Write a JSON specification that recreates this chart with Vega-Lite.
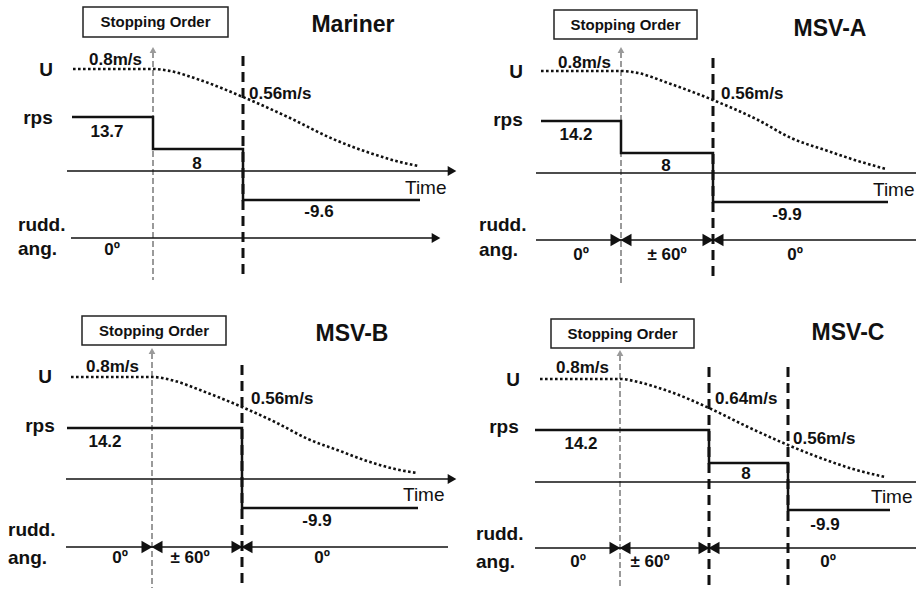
{
  "$schema": "https://vega.github.io/schema/vega-lite/v6.json",
  "padding": 0,
  "spacing": 0,
  "bounds": "flush",
  "columns": 2,
  "config": {"view": {"stroke": null}, "font": "Liberation Sans", "background": "white"},
  "data": {"values": [
    {"p": "Mariner", "k": "box", "x": 83, "x2": 228, "y": 7, "y2": 37},
    {"p": "Mariner", "k": "boxt", "x": 155.5, "y": 22, "t": "Stopping Order"},
    {"p": "Mariner", "k": "title", "x": 353, "y": 25, "t": "Mariner"},
    {"p": "Mariner", "k": "sideC", "x": 46, "y": 70, "t": "U"},
    {"p": "Mariner", "k": "sideC", "x": 38, "y": 118, "t": "rps"},
    {"p": "Mariner", "k": "sideL", "x": 18, "y": 225, "t": "rudd."},
    {"p": "Mariner", "k": "sideL", "x": 18, "y": 249, "t": "ang."},
    {"p": "Mariner", "k": "u", "x": 73, "y": 69},
    {"p": "Mariner", "k": "u", "x": 153, "y": 69},
    {"p": "Mariner", "k": "u", "x": 170, "y": 71},
    {"p": "Mariner", "k": "u", "x": 200, "y": 80},
    {"p": "Mariner", "k": "u", "x": 243, "y": 97},
    {"p": "Mariner", "k": "u", "x": 290, "y": 118},
    {"p": "Mariner", "k": "u", "x": 333, "y": 139},
    {"p": "Mariner", "k": "u", "x": 370, "y": 153},
    {"p": "Mariner", "k": "u", "x": 400, "y": 162},
    {"p": "Mariner", "k": "u", "x": 418, "y": 166},
    {"p": "Mariner", "k": "spd", "x": 89, "y": 60, "t": "0.8m/s"},
    {"p": "Mariner", "k": "spd", "x": 249, "y": 94, "t": "0.56m/s"},
    {"p": "Mariner", "k": "gray", "x": 153, "y": 52, "y2": 280},
    {"p": "Mariner", "k": "dash", "x": 243, "y": 56, "y2": 275},
    {"p": "Mariner", "k": "rps", "o": 1, "x": 72, "y": 117},
    {"p": "Mariner", "k": "rps", "o": 2, "x": 153, "y": 117},
    {"p": "Mariner", "k": "rps", "o": 3, "x": 153, "y": 149},
    {"p": "Mariner", "k": "rps", "o": 4, "x": 243, "y": 149},
    {"p": "Mariner", "k": "rps", "o": 5, "x": 243, "y": 200},
    {"p": "Mariner", "k": "rps", "o": 6, "x": 420, "y": 200},
    {"p": "Mariner", "k": "val", "x": 107, "y": 132, "t": "13.7"},
    {"p": "Mariner", "k": "val", "x": 197, "y": 164, "t": "8"},
    {"p": "Mariner", "k": "val", "x": 319, "y": 212, "t": "-9.6"},
    {"p": "Mariner", "k": "axis", "x": 67, "x2": 448, "y": 171},
    {"p": "Mariner", "k": "head", "x": 452, "y": 171},
    {"p": "Mariner", "k": "time", "x": 405, "y": 188, "t": "Time"},
    {"p": "Mariner", "k": "axis", "x": 71, "x2": 433, "y": 238},
    {"p": "Mariner", "k": "head", "x": 436, "y": 238},
    {"p": "Mariner", "k": "ang", "x": 112, "y": 250, "t": "0º"},

    {"p": "MSV-A", "k": "box", "x": 96, "x2": 239, "y": 10, "y2": 39},
    {"p": "MSV-A", "k": "boxt", "x": 167.5, "y": 25, "t": "Stopping Order"},
    {"p": "MSV-A", "k": "title", "x": 372, "y": 29, "t": "MSV-A"},
    {"p": "MSV-A", "k": "sideC", "x": 58, "y": 72, "t": "U"},
    {"p": "MSV-A", "k": "sideC", "x": 50, "y": 120, "t": "rps"},
    {"p": "MSV-A", "k": "sideL", "x": 21, "y": 225, "t": "rudd."},
    {"p": "MSV-A", "k": "sideL", "x": 21, "y": 250, "t": "ang."},
    {"p": "MSV-A", "k": "u", "x": 83, "y": 71},
    {"p": "MSV-A", "k": "u", "x": 163, "y": 71},
    {"p": "MSV-A", "k": "u", "x": 180, "y": 73},
    {"p": "MSV-A", "k": "u", "x": 210, "y": 83},
    {"p": "MSV-A", "k": "u", "x": 255, "y": 100},
    {"p": "MSV-A", "k": "u", "x": 300, "y": 120},
    {"p": "MSV-A", "k": "u", "x": 333, "y": 138},
    {"p": "MSV-A", "k": "u", "x": 367, "y": 150},
    {"p": "MSV-A", "k": "u", "x": 400, "y": 161},
    {"p": "MSV-A", "k": "u", "x": 428, "y": 169},
    {"p": "MSV-A", "k": "spd", "x": 100, "y": 63, "t": "0.8m/s"},
    {"p": "MSV-A", "k": "spd", "x": 263, "y": 94, "t": "0.56m/s"},
    {"p": "MSV-A", "k": "gray", "x": 163, "y": 52, "y2": 283},
    {"p": "MSV-A", "k": "dash", "x": 255, "y": 58, "y2": 277},
    {"p": "MSV-A", "k": "rps", "o": 1, "x": 83, "y": 121},
    {"p": "MSV-A", "k": "rps", "o": 2, "x": 163, "y": 121},
    {"p": "MSV-A", "k": "rps", "o": 3, "x": 163, "y": 153},
    {"p": "MSV-A", "k": "rps", "o": 4, "x": 255, "y": 153},
    {"p": "MSV-A", "k": "rps", "o": 5, "x": 255, "y": 202},
    {"p": "MSV-A", "k": "rps", "o": 6, "x": 430, "y": 202},
    {"p": "MSV-A", "k": "val", "x": 118, "y": 135, "t": "14.2"},
    {"p": "MSV-A", "k": "val", "x": 208, "y": 166, "t": "8"},
    {"p": "MSV-A", "k": "val", "x": 329, "y": 215, "t": "-9.9"},
    {"p": "MSV-A", "k": "axis", "x": 78, "x2": 458, "y": 173},
    {"p": "MSV-A", "k": "time", "x": 415, "y": 190, "t": "Time"},
    {"p": "MSV-A", "k": "axis", "x": 78, "x2": 458, "y": 240},
    {"p": "MSV-A", "k": "bow", "x": 163, "y": 240},
    {"p": "MSV-A", "k": "bow", "x": 255, "y": 240},
    {"p": "MSV-A", "k": "ang", "x": 123, "y": 255, "t": "0º"},
    {"p": "MSV-A", "k": "ang", "x": 209, "y": 255, "t": "± 60º"},
    {"p": "MSV-A", "k": "ang", "x": 337, "y": 255, "t": "0º"},

    {"p": "MSV-B", "k": "box", "x": 82, "x2": 226, "y": 22, "y2": 51},
    {"p": "MSV-B", "k": "boxt", "x": 154, "y": 36.5, "t": "Stopping Order"},
    {"p": "MSV-B", "k": "title", "x": 352, "y": 40, "t": "MSV-B"},
    {"p": "MSV-B", "k": "sideC", "x": 45, "y": 83, "t": "U"},
    {"p": "MSV-B", "k": "sideC", "x": 40, "y": 132, "t": "rps"},
    {"p": "MSV-B", "k": "sideL", "x": 8, "y": 236, "t": "rudd."},
    {"p": "MSV-B", "k": "sideL", "x": 8, "y": 264, "t": "ang."},
    {"p": "MSV-B", "k": "u", "x": 71, "y": 83},
    {"p": "MSV-B", "k": "u", "x": 152, "y": 83},
    {"p": "MSV-B", "k": "u", "x": 175, "y": 87},
    {"p": "MSV-B", "k": "u", "x": 200, "y": 96},
    {"p": "MSV-B", "k": "u", "x": 242, "y": 113},
    {"p": "MSV-B", "k": "u", "x": 275, "y": 128},
    {"p": "MSV-B", "k": "u", "x": 308, "y": 145},
    {"p": "MSV-B", "k": "u", "x": 340, "y": 157},
    {"p": "MSV-B", "k": "u", "x": 367, "y": 167},
    {"p": "MSV-B", "k": "u", "x": 395, "y": 175},
    {"p": "MSV-B", "k": "u", "x": 417, "y": 179},
    {"p": "MSV-B", "k": "spd", "x": 86, "y": 73, "t": "0.8m/s"},
    {"p": "MSV-B", "k": "spd", "x": 251, "y": 105, "t": "0.56m/s"},
    {"p": "MSV-B", "k": "gray", "x": 152, "y": 59, "y2": 294},
    {"p": "MSV-B", "k": "dash", "x": 242, "y": 71, "y2": 294},
    {"p": "MSV-B", "k": "rps", "o": 1, "x": 67, "y": 134},
    {"p": "MSV-B", "k": "rps", "o": 2, "x": 242, "y": 134},
    {"p": "MSV-B", "k": "rps", "o": 3, "x": 242, "y": 214},
    {"p": "MSV-B", "k": "rps", "o": 4, "x": 418, "y": 214},
    {"p": "MSV-B", "k": "val", "x": 105, "y": 148, "t": "14.2"},
    {"p": "MSV-B", "k": "val", "x": 317, "y": 227, "t": "-9.9"},
    {"p": "MSV-B", "k": "axis", "x": 66, "x2": 448, "y": 185},
    {"p": "MSV-B", "k": "head", "x": 452, "y": 185},
    {"p": "MSV-B", "k": "time", "x": 403, "y": 201, "t": "Time"},
    {"p": "MSV-B", "k": "axis", "x": 66, "x2": 448, "y": 253},
    {"p": "MSV-B", "k": "bow", "x": 152, "y": 253},
    {"p": "MSV-B", "k": "bow", "x": 242, "y": 253},
    {"p": "MSV-B", "k": "ang", "x": 120, "y": 264, "t": "0º"},
    {"p": "MSV-B", "k": "ang", "x": 190, "y": 264, "t": "± 60º"},
    {"p": "MSV-B", "k": "ang", "x": 322, "y": 264, "t": "0º"},

    {"p": "MSV-C", "k": "box", "x": 93, "x2": 236, "y": 25, "y2": 54},
    {"p": "MSV-C", "k": "boxt", "x": 164.5, "y": 39.5, "t": "Stopping Order"},
    {"p": "MSV-C", "k": "title", "x": 390, "y": 39, "t": "MSV-C"},
    {"p": "MSV-C", "k": "sideC", "x": 55, "y": 86, "t": "U"},
    {"p": "MSV-C", "k": "sideC", "x": 46, "y": 133, "t": "rps"},
    {"p": "MSV-C", "k": "sideL", "x": 18, "y": 240, "t": "rudd."},
    {"p": "MSV-C", "k": "sideL", "x": 18, "y": 268, "t": "ang."},
    {"p": "MSV-C", "k": "u", "x": 82, "y": 85},
    {"p": "MSV-C", "k": "u", "x": 163, "y": 85},
    {"p": "MSV-C", "k": "u", "x": 180, "y": 88},
    {"p": "MSV-C", "k": "u", "x": 210, "y": 97},
    {"p": "MSV-C", "k": "u", "x": 251, "y": 114},
    {"p": "MSV-C", "k": "u", "x": 290, "y": 133},
    {"p": "MSV-C", "k": "u", "x": 330, "y": 151},
    {"p": "MSV-C", "k": "u", "x": 360, "y": 163},
    {"p": "MSV-C", "k": "u", "x": 395, "y": 175},
    {"p": "MSV-C", "k": "u", "x": 427, "y": 183},
    {"p": "MSV-C", "k": "spd", "x": 98, "y": 74, "t": "0.8m/s"},
    {"p": "MSV-C", "k": "spd", "x": 257, "y": 105, "t": "0.64m/s"},
    {"p": "MSV-C", "k": "spd", "x": 335, "y": 145, "t": "0.56m/s"},
    {"p": "MSV-C", "k": "gray", "x": 162, "y": 61, "y2": 294},
    {"p": "MSV-C", "k": "dash", "x": 251, "y": 73, "y2": 294},
    {"p": "MSV-C", "k": "dash", "x": 330, "y": 73, "y2": 294},
    {"p": "MSV-C", "k": "rps", "o": 1, "x": 77, "y": 136},
    {"p": "MSV-C", "k": "rps", "o": 2, "x": 251, "y": 136},
    {"p": "MSV-C", "k": "rps", "o": 3, "x": 251, "y": 169},
    {"p": "MSV-C", "k": "rps", "o": 4, "x": 330, "y": 169},
    {"p": "MSV-C", "k": "rps", "o": 5, "x": 330, "y": 216},
    {"p": "MSV-C", "k": "rps", "o": 6, "x": 432, "y": 216},
    {"p": "MSV-C", "k": "val", "x": 123, "y": 150, "t": "14.2"},
    {"p": "MSV-C", "k": "val", "x": 288, "y": 180, "t": "8"},
    {"p": "MSV-C", "k": "val", "x": 367, "y": 231, "t": "-9.9"},
    {"p": "MSV-C", "k": "axis", "x": 77, "x2": 458, "y": 188},
    {"p": "MSV-C", "k": "time", "x": 413, "y": 203, "t": "Time"},
    {"p": "MSV-C", "k": "axis", "x": 77, "x2": 458, "y": 254},
    {"p": "MSV-C", "k": "bow", "x": 162, "y": 254},
    {"p": "MSV-C", "k": "bow", "x": 251, "y": 254},
    {"p": "MSV-C", "k": "ang", "x": 120, "y": 268, "t": "0º"},
    {"p": "MSV-C", "k": "ang", "x": 192, "y": 268, "t": "± 60º"},
    {"p": "MSV-C", "k": "ang", "x": 370, "y": 268, "t": "0º"}
  ]},
  "concat": [
    {
      "width": 458, "height": 294,
      "transform": [{"filter": "datum.p === 'Mariner'"}],
      "encoding": {
        "x": {"field": "x", "type": "quantitative", "scale": {"domain": [0, 458], "nice": false, "zero": false}, "axis": null},
        "y": {"field": "y", "type": "quantitative", "scale": {"domain": [0, 294], "nice": false, "zero": false, "reverse": true}, "axis": null}
      },
      "layer": [
        {"transform": [{"filter": "datum.k === 'box'"}], "mark": {"type": "rect", "fill": "white", "stroke": "#222", "strokeWidth": 1.5}, "encoding": {"x2": {"field": "x2"}, "y2": {"field": "y2"}}},
        {"transform": [{"filter": "datum.k === 'boxt'"}], "mark": {"type": "text", "fontSize": 15, "fontWeight": "bold", "align": "center", "baseline": "middle", "color": "#111"}, "encoding": {"text": {"field": "t"}}},
        {"transform": [{"filter": "datum.k === 'title'"}], "mark": {"type": "text", "fontSize": 23, "fontWeight": "bold", "align": "center", "baseline": "middle", "color": "#111"}, "encoding": {"text": {"field": "t"}}},
        {"transform": [{"filter": "datum.k === 'sideC'"}], "mark": {"type": "text", "fontSize": 19, "fontWeight": "bold", "align": "center", "baseline": "middle", "color": "#111"}, "encoding": {"text": {"field": "t"}}},
        {"transform": [{"filter": "datum.k === 'sideL'"}], "mark": {"type": "text", "fontSize": 19, "fontWeight": "bold", "align": "left", "baseline": "middle", "color": "#111"}, "encoding": {"text": {"field": "t"}}},
        {"transform": [{"filter": "datum.k === 'gray'"}], "mark": {"type": "rule", "color": "#9a9a9a", "strokeWidth": 2, "strokeDash": [6, 3]}, "encoding": {"y2": {"field": "y2"}}},
        {"transform": [{"filter": "datum.k === 'gray'"}], "mark": {"type": "point", "shape": "triangle-up", "filled": true, "size": 45, "color": "#9a9a9a", "opacity": 1, "yOffset": -2}},
        {"transform": [{"filter": "datum.k === 'dash'"}], "mark": {"type": "rule", "color": "#111", "strokeWidth": 3, "strokeDash": [10, 6]}, "encoding": {"y2": {"field": "y2"}}},
        {"transform": [{"filter": "datum.k === 'axis'"}], "mark": {"type": "rule", "color": "#111", "strokeWidth": 1.5}, "encoding": {"x2": {"field": "x2"}}},
        {"transform": [{"filter": "datum.k === 'head'"}], "mark": {"type": "point", "shape": "triangle-right", "filled": true, "size": 100, "color": "#111", "opacity": 1}},
        {"transform": [{"filter": "datum.k === 'u'"}], "mark": {"type": "line", "color": "#111", "strokeWidth": 2.6, "strokeDash": [2.6, 2.4], "interpolate": "monotone"}},
        {"transform": [{"filter": "datum.k === 'rps'"}], "mark": {"type": "line", "color": "#111", "strokeWidth": 2.5, "strokeJoin": "miter"}, "encoding": {"order": {"field": "o", "type": "quantitative"}}},
        {"transform": [{"filter": "datum.k === 'spd'"}], "mark": {"type": "text", "fontSize": 17, "fontWeight": "bold", "align": "left", "baseline": "middle", "color": "#111"}, "encoding": {"text": {"field": "t"}}},
        {"transform": [{"filter": "datum.k === 'val'"}], "mark": {"type": "text", "fontSize": 17, "fontWeight": "bold", "align": "center", "baseline": "middle", "color": "#111"}, "encoding": {"text": {"field": "t"}}},
        {"transform": [{"filter": "datum.k === 'ang'"}], "mark": {"type": "text", "fontSize": 17, "fontWeight": "bold", "align": "center", "baseline": "middle", "color": "#111"}, "encoding": {"text": {"field": "t"}}},
        {"transform": [{"filter": "datum.k === 'time'"}], "mark": {"type": "text", "fontSize": 19, "align": "left", "baseline": "middle", "color": "#111"}, "encoding": {"text": {"field": "t"}}}
      ]
    },
    {
      "width": 458, "height": 294,
      "transform": [{"filter": "datum.p === 'MSV-A'"}],
      "encoding": {
        "x": {"field": "x", "type": "quantitative", "scale": {"domain": [0, 458], "nice": false, "zero": false}, "axis": null},
        "y": {"field": "y", "type": "quantitative", "scale": {"domain": [0, 294], "nice": false, "zero": false, "reverse": true}, "axis": null}
      },
      "layer": [
        {"transform": [{"filter": "datum.k === 'box'"}], "mark": {"type": "rect", "fill": "white", "stroke": "#222", "strokeWidth": 1.5}, "encoding": {"x2": {"field": "x2"}, "y2": {"field": "y2"}}},
        {"transform": [{"filter": "datum.k === 'boxt'"}], "mark": {"type": "text", "fontSize": 15, "fontWeight": "bold", "align": "center", "baseline": "middle", "color": "#111"}, "encoding": {"text": {"field": "t"}}},
        {"transform": [{"filter": "datum.k === 'title'"}], "mark": {"type": "text", "fontSize": 23, "fontWeight": "bold", "align": "center", "baseline": "middle", "color": "#111"}, "encoding": {"text": {"field": "t"}}},
        {"transform": [{"filter": "datum.k === 'sideC'"}], "mark": {"type": "text", "fontSize": 19, "fontWeight": "bold", "align": "center", "baseline": "middle", "color": "#111"}, "encoding": {"text": {"field": "t"}}},
        {"transform": [{"filter": "datum.k === 'sideL'"}], "mark": {"type": "text", "fontSize": 19, "fontWeight": "bold", "align": "left", "baseline": "middle", "color": "#111"}, "encoding": {"text": {"field": "t"}}},
        {"transform": [{"filter": "datum.k === 'gray'"}], "mark": {"type": "rule", "color": "#9a9a9a", "strokeWidth": 2, "strokeDash": [6, 3]}, "encoding": {"y2": {"field": "y2"}}},
        {"transform": [{"filter": "datum.k === 'gray'"}], "mark": {"type": "point", "shape": "triangle-up", "filled": true, "size": 45, "color": "#9a9a9a", "opacity": 1, "yOffset": -2}},
        {"transform": [{"filter": "datum.k === 'dash'"}], "mark": {"type": "rule", "color": "#111", "strokeWidth": 3, "strokeDash": [10, 6]}, "encoding": {"y2": {"field": "y2"}}},
        {"transform": [{"filter": "datum.k === 'axis'"}], "mark": {"type": "rule", "color": "#111", "strokeWidth": 1.5}, "encoding": {"x2": {"field": "x2"}}},
        {"transform": [{"filter": "datum.k === 'bow'"}], "mark": {"type": "point", "shape": "triangle-right", "filled": true, "size": 160, "color": "#111", "opacity": 1, "xOffset": -5}},
        {"transform": [{"filter": "datum.k === 'bow'"}], "mark": {"type": "point", "shape": "triangle-left", "filled": true, "size": 160, "color": "#111", "opacity": 1, "xOffset": 5}},
        {"transform": [{"filter": "datum.k === 'u'"}], "mark": {"type": "line", "color": "#111", "strokeWidth": 2.6, "strokeDash": [2.6, 2.4], "interpolate": "monotone"}},
        {"transform": [{"filter": "datum.k === 'rps'"}], "mark": {"type": "line", "color": "#111", "strokeWidth": 2.5, "strokeJoin": "miter"}, "encoding": {"order": {"field": "o", "type": "quantitative"}}},
        {"transform": [{"filter": "datum.k === 'spd'"}], "mark": {"type": "text", "fontSize": 17, "fontWeight": "bold", "align": "left", "baseline": "middle", "color": "#111"}, "encoding": {"text": {"field": "t"}}},
        {"transform": [{"filter": "datum.k === 'val'"}], "mark": {"type": "text", "fontSize": 17, "fontWeight": "bold", "align": "center", "baseline": "middle", "color": "#111"}, "encoding": {"text": {"field": "t"}}},
        {"transform": [{"filter": "datum.k === 'ang'"}], "mark": {"type": "text", "fontSize": 17, "fontWeight": "bold", "align": "center", "baseline": "middle", "color": "#111"}, "encoding": {"text": {"field": "t"}}},
        {"transform": [{"filter": "datum.k === 'time'"}], "mark": {"type": "text", "fontSize": 19, "align": "left", "baseline": "middle", "color": "#111"}, "encoding": {"text": {"field": "t"}}}
      ]
    },
    {
      "width": 458, "height": 294,
      "transform": [{"filter": "datum.p === 'MSV-B'"}],
      "encoding": {
        "x": {"field": "x", "type": "quantitative", "scale": {"domain": [0, 458], "nice": false, "zero": false}, "axis": null},
        "y": {"field": "y", "type": "quantitative", "scale": {"domain": [0, 294], "nice": false, "zero": false, "reverse": true}, "axis": null}
      },
      "layer": [
        {"transform": [{"filter": "datum.k === 'box'"}], "mark": {"type": "rect", "fill": "white", "stroke": "#222", "strokeWidth": 1.5}, "encoding": {"x2": {"field": "x2"}, "y2": {"field": "y2"}}},
        {"transform": [{"filter": "datum.k === 'boxt'"}], "mark": {"type": "text", "fontSize": 15, "fontWeight": "bold", "align": "center", "baseline": "middle", "color": "#111"}, "encoding": {"text": {"field": "t"}}},
        {"transform": [{"filter": "datum.k === 'title'"}], "mark": {"type": "text", "fontSize": 23, "fontWeight": "bold", "align": "center", "baseline": "middle", "color": "#111"}, "encoding": {"text": {"field": "t"}}},
        {"transform": [{"filter": "datum.k === 'sideC'"}], "mark": {"type": "text", "fontSize": 19, "fontWeight": "bold", "align": "center", "baseline": "middle", "color": "#111"}, "encoding": {"text": {"field": "t"}}},
        {"transform": [{"filter": "datum.k === 'sideL'"}], "mark": {"type": "text", "fontSize": 19, "fontWeight": "bold", "align": "left", "baseline": "middle", "color": "#111"}, "encoding": {"text": {"field": "t"}}},
        {"transform": [{"filter": "datum.k === 'gray'"}], "mark": {"type": "rule", "color": "#9a9a9a", "strokeWidth": 2, "strokeDash": [6, 3]}, "encoding": {"y2": {"field": "y2"}}},
        {"transform": [{"filter": "datum.k === 'gray'"}], "mark": {"type": "point", "shape": "triangle-up", "filled": true, "size": 45, "color": "#9a9a9a", "opacity": 1, "yOffset": -2}},
        {"transform": [{"filter": "datum.k === 'dash'"}], "mark": {"type": "rule", "color": "#111", "strokeWidth": 3, "strokeDash": [10, 6]}, "encoding": {"y2": {"field": "y2"}}},
        {"transform": [{"filter": "datum.k === 'axis'"}], "mark": {"type": "rule", "color": "#111", "strokeWidth": 1.5}, "encoding": {"x2": {"field": "x2"}}},
        {"transform": [{"filter": "datum.k === 'head'"}], "mark": {"type": "point", "shape": "triangle-right", "filled": true, "size": 100, "color": "#111", "opacity": 1}},
        {"transform": [{"filter": "datum.k === 'bow'"}], "mark": {"type": "point", "shape": "triangle-right", "filled": true, "size": 160, "color": "#111", "opacity": 1, "xOffset": -5}},
        {"transform": [{"filter": "datum.k === 'bow'"}], "mark": {"type": "point", "shape": "triangle-left", "filled": true, "size": 160, "color": "#111", "opacity": 1, "xOffset": 5}},
        {"transform": [{"filter": "datum.k === 'u'"}], "mark": {"type": "line", "color": "#111", "strokeWidth": 2.6, "strokeDash": [2.6, 2.4], "interpolate": "monotone"}},
        {"transform": [{"filter": "datum.k === 'rps'"}], "mark": {"type": "line", "color": "#111", "strokeWidth": 2.5, "strokeJoin": "miter"}, "encoding": {"order": {"field": "o", "type": "quantitative"}}},
        {"transform": [{"filter": "datum.k === 'spd'"}], "mark": {"type": "text", "fontSize": 17, "fontWeight": "bold", "align": "left", "baseline": "middle", "color": "#111"}, "encoding": {"text": {"field": "t"}}},
        {"transform": [{"filter": "datum.k === 'val'"}], "mark": {"type": "text", "fontSize": 17, "fontWeight": "bold", "align": "center", "baseline": "middle", "color": "#111"}, "encoding": {"text": {"field": "t"}}},
        {"transform": [{"filter": "datum.k === 'ang'"}], "mark": {"type": "text", "fontSize": 17, "fontWeight": "bold", "align": "center", "baseline": "middle", "color": "#111"}, "encoding": {"text": {"field": "t"}}},
        {"transform": [{"filter": "datum.k === 'time'"}], "mark": {"type": "text", "fontSize": 19, "align": "left", "baseline": "middle", "color": "#111"}, "encoding": {"text": {"field": "t"}}}
      ]
    },
    {
      "width": 458, "height": 294,
      "transform": [{"filter": "datum.p === 'MSV-C'"}],
      "encoding": {
        "x": {"field": "x", "type": "quantitative", "scale": {"domain": [0, 458], "nice": false, "zero": false}, "axis": null},
        "y": {"field": "y", "type": "quantitative", "scale": {"domain": [0, 294], "nice": false, "zero": false, "reverse": true}, "axis": null}
      },
      "layer": [
        {"transform": [{"filter": "datum.k === 'box'"}], "mark": {"type": "rect", "fill": "white", "stroke": "#222", "strokeWidth": 1.5}, "encoding": {"x2": {"field": "x2"}, "y2": {"field": "y2"}}},
        {"transform": [{"filter": "datum.k === 'boxt'"}], "mark": {"type": "text", "fontSize": 15, "fontWeight": "bold", "align": "center", "baseline": "middle", "color": "#111"}, "encoding": {"text": {"field": "t"}}},
        {"transform": [{"filter": "datum.k === 'title'"}], "mark": {"type": "text", "fontSize": 23, "fontWeight": "bold", "align": "center", "baseline": "middle", "color": "#111"}, "encoding": {"text": {"field": "t"}}},
        {"transform": [{"filter": "datum.k === 'sideC'"}], "mark": {"type": "text", "fontSize": 19, "fontWeight": "bold", "align": "center", "baseline": "middle", "color": "#111"}, "encoding": {"text": {"field": "t"}}},
        {"transform": [{"filter": "datum.k === 'sideL'"}], "mark": {"type": "text", "fontSize": 19, "fontWeight": "bold", "align": "left", "baseline": "middle", "color": "#111"}, "encoding": {"text": {"field": "t"}}},
        {"transform": [{"filter": "datum.k === 'gray'"}], "mark": {"type": "rule", "color": "#9a9a9a", "strokeWidth": 2, "strokeDash": [6, 3]}, "encoding": {"y2": {"field": "y2"}}},
        {"transform": [{"filter": "datum.k === 'gray'"}], "mark": {"type": "point", "shape": "triangle-up", "filled": true, "size": 45, "color": "#9a9a9a", "opacity": 1, "yOffset": -2}},
        {"transform": [{"filter": "datum.k === 'dash'"}], "mark": {"type": "rule", "color": "#111", "strokeWidth": 3, "strokeDash": [10, 6]}, "encoding": {"y2": {"field": "y2"}}},
        {"transform": [{"filter": "datum.k === 'axis'"}], "mark": {"type": "rule", "color": "#111", "strokeWidth": 1.5}, "encoding": {"x2": {"field": "x2"}}},
        {"transform": [{"filter": "datum.k === 'bow'"}], "mark": {"type": "point", "shape": "triangle-right", "filled": true, "size": 160, "color": "#111", "opacity": 1, "xOffset": -5}},
        {"transform": [{"filter": "datum.k === 'bow'"}], "mark": {"type": "point", "shape": "triangle-left", "filled": true, "size": 160, "color": "#111", "opacity": 1, "xOffset": 5}},
        {"transform": [{"filter": "datum.k === 'u'"}], "mark": {"type": "line", "color": "#111", "strokeWidth": 2.6, "strokeDash": [2.6, 2.4], "interpolate": "monotone"}},
        {"transform": [{"filter": "datum.k === 'rps'"}], "mark": {"type": "line", "color": "#111", "strokeWidth": 2.5, "strokeJoin": "miter"}, "encoding": {"order": {"field": "o", "type": "quantitative"}}},
        {"transform": [{"filter": "datum.k === 'spd'"}], "mark": {"type": "text", "fontSize": 17, "fontWeight": "bold", "align": "left", "baseline": "middle", "color": "#111"}, "encoding": {"text": {"field": "t"}}},
        {"transform": [{"filter": "datum.k === 'val'"}], "mark": {"type": "text", "fontSize": 17, "fontWeight": "bold", "align": "center", "baseline": "middle", "color": "#111"}, "encoding": {"text": {"field": "t"}}},
        {"transform": [{"filter": "datum.k === 'ang'"}], "mark": {"type": "text", "fontSize": 17, "fontWeight": "bold", "align": "center", "baseline": "middle", "color": "#111"}, "encoding": {"text": {"field": "t"}}},
        {"transform": [{"filter": "datum.k === 'time'"}], "mark": {"type": "text", "fontSize": 19, "align": "left", "baseline": "middle", "color": "#111"}, "encoding": {"text": {"field": "t"}}}
      ]
    }
  ]
}
